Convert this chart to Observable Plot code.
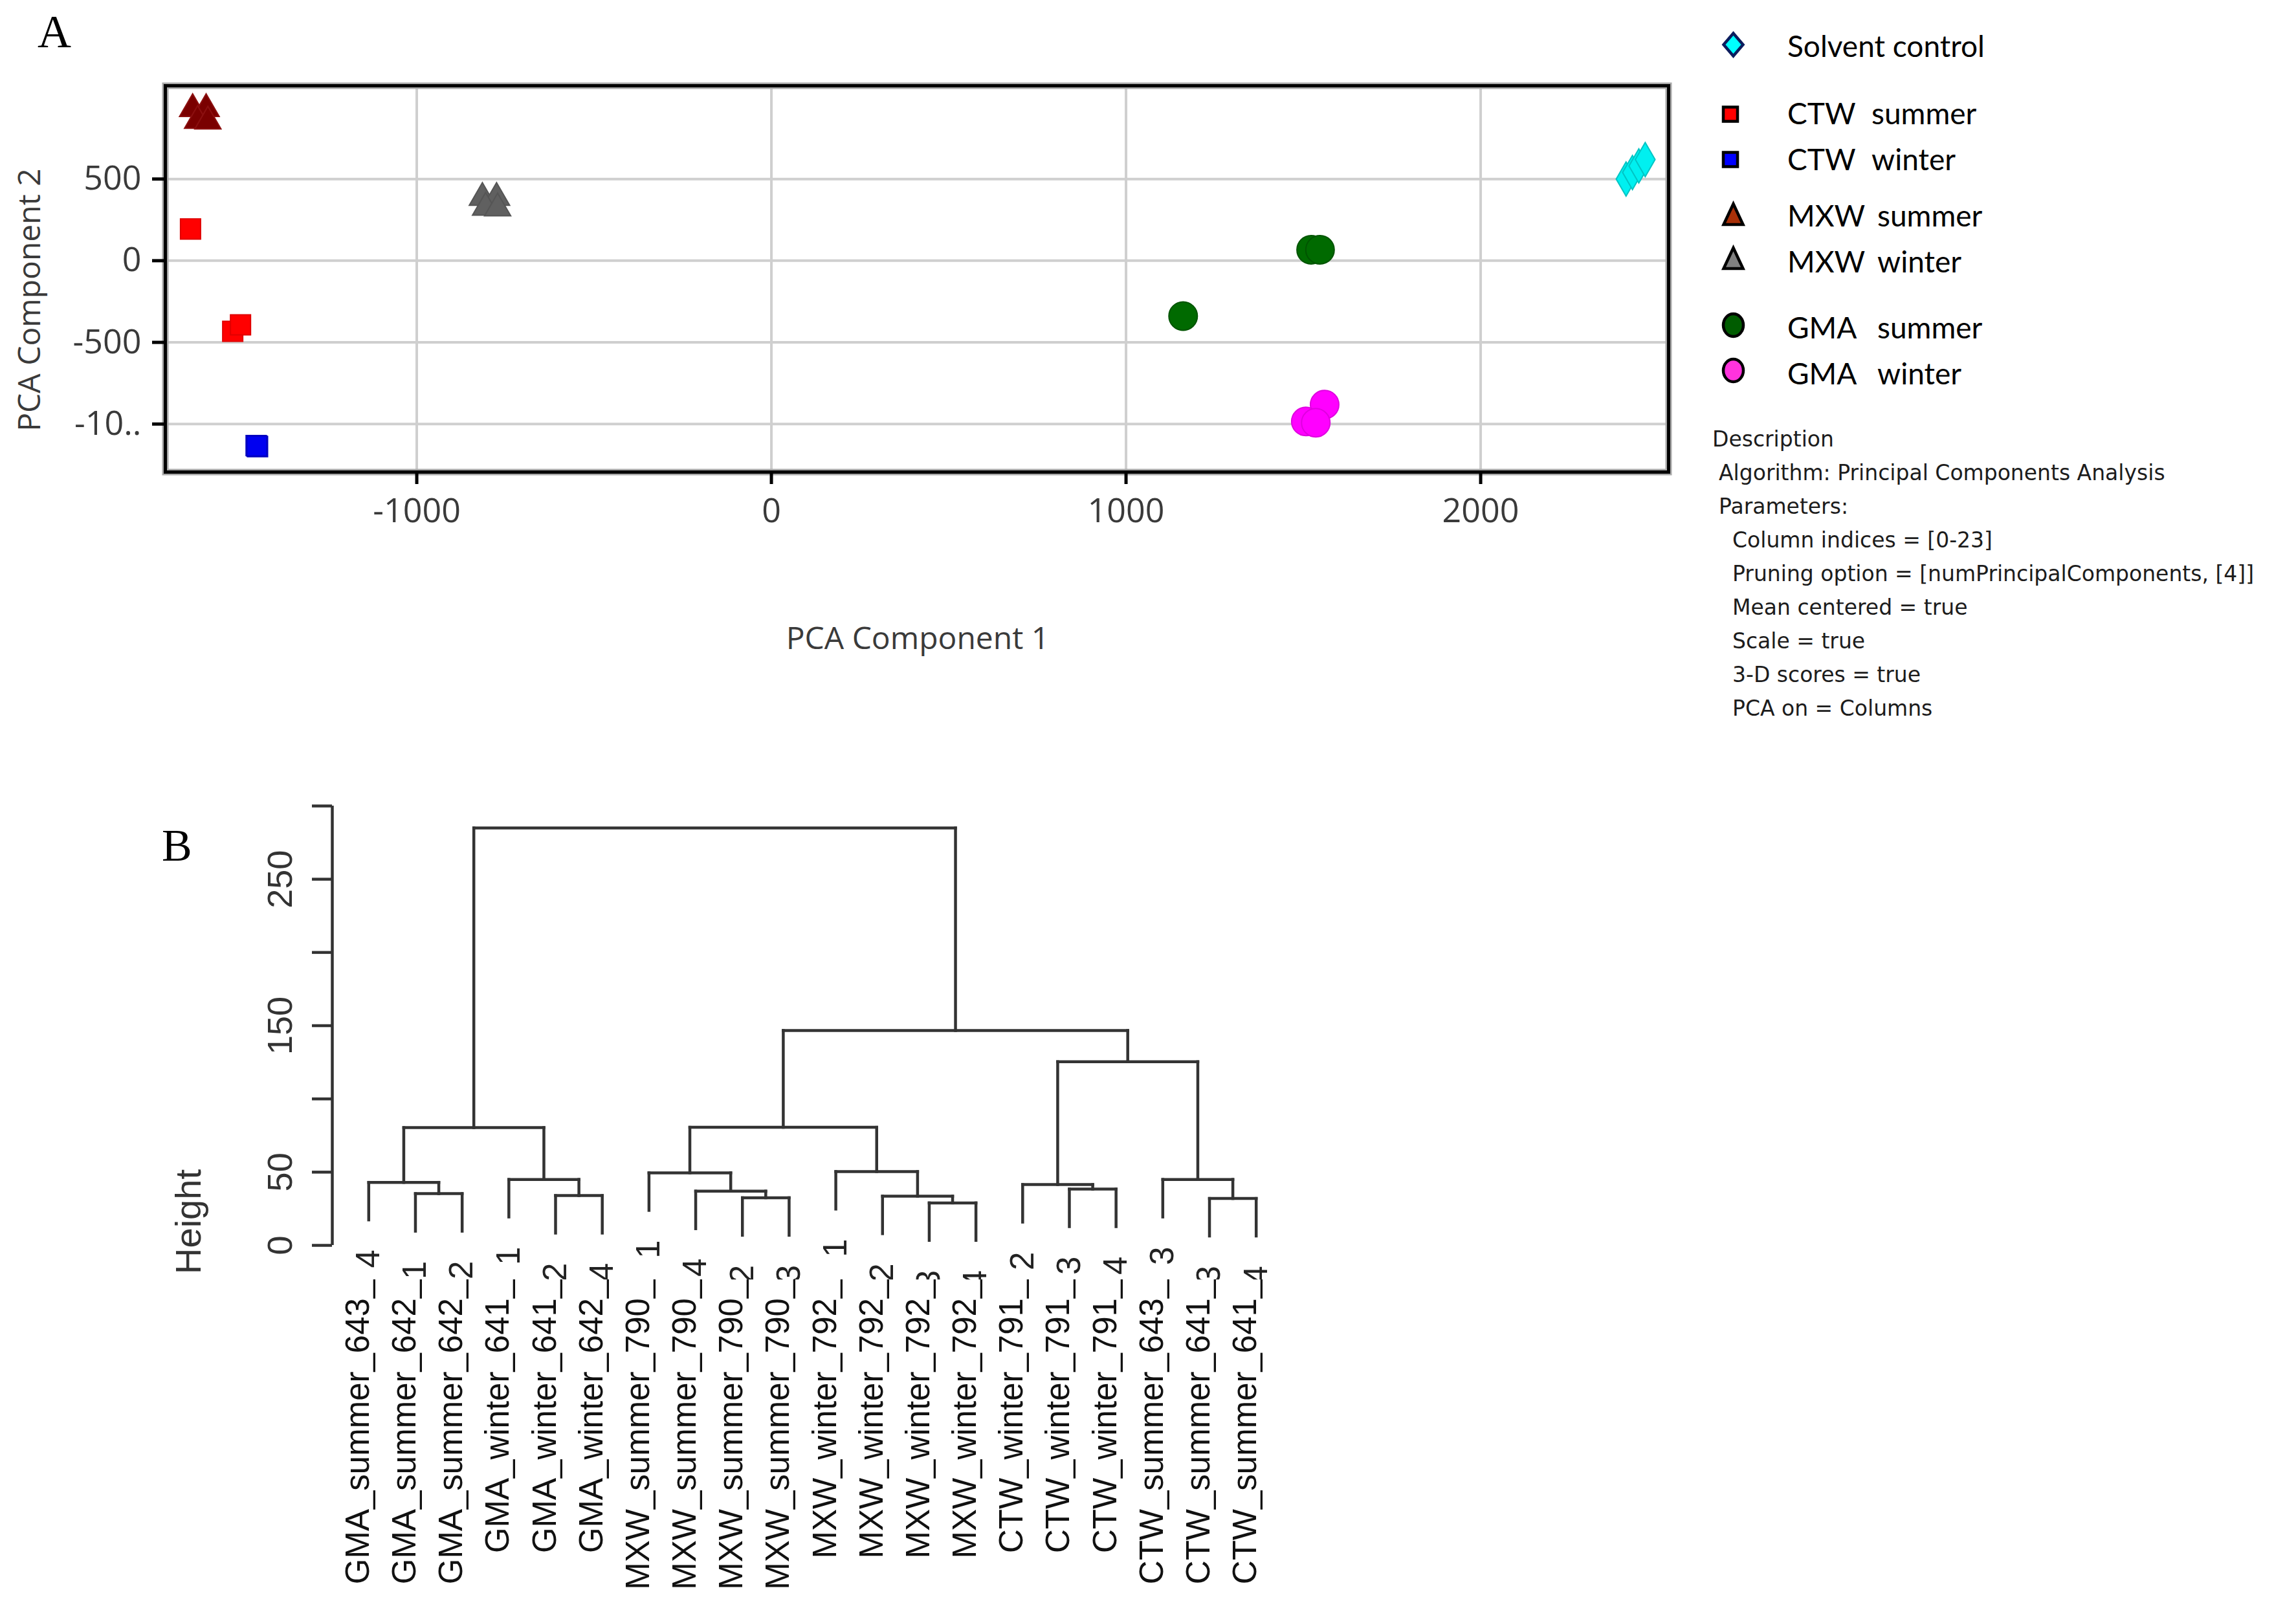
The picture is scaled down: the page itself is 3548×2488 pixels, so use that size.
<!DOCTYPE html>
<html>
<head>
<meta charset="utf-8">
<script src="https://cdn.jsdelivr.net/npm/d3@7"></script>
<script src="https://cdn.jsdelivr.net/npm/@observablehq/plot@0.6"></script>
<style>
html, body { margin: 0; padding: 0; background: #fff; }
#fig { position: relative; width: 3548px; height: 2488px; background: #fff; overflow: hidden; }
</style>
</head>
<body>
<div id="fig"></div>
<script>
// ================= DATA =================
// Panel A: PCA scores
const groupNames = ["Solvent control", "CTW summer", "CTW winter", "MXW summer", "MXW winter", "GMA summer", "GMA winter"];
const pointGroup = [
  "Solvent control", "Solvent control", "Solvent control", "Solvent control",
  "CTW summer", "CTW summer", "CTW summer",
  "CTW winter", "CTW winter", "CTW winter",
  "MXW summer", "MXW summer", "MXW summer", "MXW summer",
  "MXW winter", "MXW winter", "MXW winter", "MXW winter",
  "GMA summer", "GMA summer", "GMA summer",
  "GMA winter", "GMA winter", "GMA winter"
];
const pointPC1 = [
  2410, 2428, 2446, 2464,
  -1638, -1519, -1497,
  -1453, -1449, -1451,
  -1632, -1594, -1618, -1589,
  -815, -775, -806, -772,
  1522, 1547, 1161,
  1560, 1507, 1535
];
const pointPC2 = [
  500, 540, 580, 619,
  194, -432, -393,
  -1132, -1138, -1135,
  929, 929, 857, 853,
  385, 385, 325, 321,
  67, 67, -339,
  -881, -984, -992
];
const pcaXTicks = [-1000, 0, 1000, 2000];
const pcaYTicks = [-1000, -500, 0, 500];

// Panel B: hierarchical clustering (leaf order as drawn)
const leafSample = [
  "GMA_summer_643", "GMA_summer_642", "GMA_summer_642", "GMA_winter_641", "GMA_winter_641", "GMA_winter_642",
  "MXW_summer_790", "MXW_summer_790", "MXW_summer_790", "MXW_summer_790",
  "MXW_winter_792", "MXW_winter_792", "MXW_winter_792", "MXW_winter_792",
  "CTW_winter_791", "CTW_winter_791", "CTW_winter_791",
  "CTW_summer_643", "CTW_summer_641", "CTW_summer_641"
];
const leafReplicate = ["4", "1", "2", "1", "2", "4", "1", "4", "2", "3", "1", "2", "3", "4", "2", "3", "4", "3", "3", "4"];
// merges (hclust convention: negative = leaf position, positive = earlier merge)
const mergeLeft   = [-2, -1, -5, -4, 2, -9, -8, -7, -13, -12, -11, 8, -16, -15, -19, -18, 14, 12, 5];
const mergeRight  = [-3, 1, -6, 3, 4, -10, 6, 7, -14, 9, 10, 11, -17, 13, -20, 15, 16, 17, 18];
const mergeHeight = [35.3, 43.0, 34.0, 45.0, 80.4, 32.5, 37.0, 49.5, 29.0, 33.6, 50.4, 80.6, 38.4, 41.5, 32.0, 45.0, 125.4, 146.7, 285.0];
const heightTicks = [0, 50, 100, 150, 200, 250, 300];
const heightLabels = [0, 50, 150, 250];

// Legend / description text
const legendLabels = ["Solvent control", "CTW summer", "CTW winter", "MXW summer", "MXW winter", "GMA summer", "GMA winter"];
const descriptionLines = [
  "Description",
  "Algorithm: Principal Components Analysis",
  "Parameters:",
  "Column indices = [0-23]",
  "Pruning option = [numPrincipalComponents, [4]]",
  "Mean centered = true",
  "Scale = true",
  "3-D scores = true",
  "PCA on = Columns"
];

// ================= STYLES =================
const groupSymbol = ["diamond", "square", "square", "triangle", "triangle", "circle", "circle"];
const groupRadius = [16, 17.5, 17.5, 15, 15, 22, 22];
const groupFill   = ["#00f0f0", "#ff0000", "#0000f0", "#7a0000", "#606060", "#006a00", "#ff00ff"];
const groupStroke = ["#00c4c4", "#e00000", "#0000c0", "#8c1010", "#555555", "#005400", "#e000e0"];
const legendShape  = ["diamond", "square", "square", "triangle", "triangle", "ellipse", "ellipse"];
const legendFill   = ["#00ffff", "#ff0000", "#0000ff", "#a83008", "#808080", "#005c00", "#ff33dd"];
const legendStroke = ["#0b1d5e", "#000", "#000", "#000", "#000", "#000", "#000"];
const legendSymbolY = [69, 176.5, 246.5, 332, 400, 502.5, 572.5];
const legendBaseline = [88, 192, 263, 350, 421, 523, 594];
const legendSecondX = [null, 2892, 2892, 2901, 2901, 2901, 2901];
const descIndent = [0, 10, 10, 31, 31, 31, 31, 31, 31];

const fig = document.getElementById("fig");

// ================= PANEL A =================
const points = pointGroup.map((g, i) => ({group: g, pc1: pointPC1[i], pc2: pointPC2[i]}));
const plotA = Plot.plot({
  width: 2640, height: 1050,
  marginLeft: 255, marginRight: 62, marginTop: 132, marginBottom: 321,
  x: {domain: [-1709, 2530]},
  y: {domain: [-1294, 1071]},
  style: {fontFamily: "'Open Sans', sans-serif", fontSize: "52px", background: "transparent", color: "#3a3a3a"},
  marks: [
    Plot.gridX(pcaXTicks, {stroke: "#cfcfcf", strokeOpacity: 1, strokeWidth: 4}),
    Plot.gridY(pcaYTicks, {stroke: "#cfcfcf", strokeOpacity: 1, strokeWidth: 4}),
    ...groupNames.map((g, k) => Plot.dot(points.filter(d => d.group === g), {
      x: "pc1", y: "pc2", symbol: groupSymbol[k], r: groupRadius[k],
      fill: groupFill[k], stroke: groupStroke[k], strokeWidth: 2
    })),
    Plot.frame({stroke: "#a8a8a8", strokeWidth: 10}),
    Plot.frame({stroke: "#000", strokeWidth: 5}),
    Plot.axisX(pcaXTicks, {tickSize: 19, tickPadding: 22, stroke: "#000", strokeWidth: 5, fill: "#3a3a3a", fontSize: 52, tickFormat: d => String(d), label: null}),
    Plot.axisY(pcaYTicks, {tickSize: 20, tickPadding: 17, stroke: "#000", strokeWidth: 5, fill: "#3a3a3a", fontSize: 52, tickFormat: d => d === -1000 ? "-10.." : String(d), label: null})
  ]
});
plotA.style.position = "absolute";
plotA.style.left = "0px";
plotA.style.top = "0px";
fig.appendChild(plotA);

// ================= PANEL B (dendrogram) =================
const nLeaf = leafSample.length;
const hang = 0.1 * (d3.max(mergeHeight) - d3.min(mergeHeight));
const mergeX = [];
const leafEnd = new Array(nLeaf);
const segments = [];
const nodeX = c => c < 0 ? -c : mergeX[c - 1];
mergeLeft.forEach((a, k) => {
  const b = mergeRight[k], h = mergeHeight[k];
  const xa = nodeX(a), xb = nodeX(b);
  mergeX[k] = (xa + xb) / 2;
  for (const [c, xc] of [[a, xa], [b, xb]]) {
    let top;
    if (c < 0) { top = h - hang; leafEnd[-c - 1] = top; }
    else top = mergeHeight[c - 1];
    segments.push({x1: xc, y1: top, x2: xc, y2: h});
  }
  segments.push({x1: xa, y1: h, x2: xb, y2: h});
});
const leaves = leafSample.map((s, i) => ({pos: i + 1, sample: s, rep: leafReplicate[i], end: leafEnd[i]}));
const xDomB = [0.22, 20.6];
const yDomB = [-23.5, 305];
const pxPerUnitB = 743.5 / (yDomB[1] - yDomB[0]);
const repDrop = 46 / pxPerUnitB;

const plotB = Plot.plot({
  width: 2100, height: 1308,
  marginLeft: 513, marginRight: 116, marginTop: 53.7, marginBottom: 510.8,
  x: {domain: xDomB, axis: null},
  y: {domain: yDomB},
  style: {fontFamily: "'Liberation Sans', Arial, sans-serif", fontSize: "51px", background: "transparent", color: "#333"},
  marks: [
    Plot.link(segments, {x1: "x1", y1: "y1", x2: "x2", y2: "y2", stroke: "#333", strokeWidth: 4.5, strokeLinecap: "square"}),
    Plot.ruleX([xDomB[0]], {y1: heightTicks[0], y2: heightTicks[heightTicks.length - 1], stroke: "#333", strokeWidth: 4.5}),
    Plot.axisY(heightTicks, {tickSize: 31, tickRotate: -90, tickPadding: 32, stroke: "#333", strokeWidth: 4.5, fill: "#333", fontSize: 54,
      tickFormat: d => heightLabels.includes(d) ? String(d) : "", label: null}),
    Plot.text(leaves, {x: "pos", y: d => d.end - repDrop, text: "rep", rotate: -90, textAnchor: "end", fontSize: 51, fill: "#222", clip: true}),
    Plot.text(leaves, {x: "pos", frameAnchor: "bottom", text: d => d.sample + "_", rotate: -90, textAnchor: "end", fontSize: 51, fill: "#111"})
  ]
});
plotB.style.position = "absolute";
plotB.style.left = "0px";
plotB.style.top = "1180px";
fig.appendChild(plotB);

// ================= OVERLAY: panel letters, titles, legend, description =================
const ov = d3.select(fig).append("svg")
  .attr("width", 3548).attr("height", 2488)
  .style("position", "absolute").style("left", "0px").style("top", "0px")
  .style("pointer-events", "none");

ov.append("text").attr("x", 58).attr("y", 73)
  .attr("font-family", "'Liberation Serif', 'Times New Roman', serif").attr("font-size", 72).text("A");
ov.append("text").attr("x", 250).attr("y", 1330)
  .attr("font-family", "'Liberation Serif', 'Times New Roman', serif").attr("font-size", 70).text("B");

ov.append("text").attr("x", 1418).attr("y", 1003).attr("text-anchor", "middle")
  .attr("font-family", "'Open Sans', sans-serif").attr("font-size", 48).attr("fill", "#3a3a3a")
  .text("PCA Component 1");
ov.append("text").attr("transform", "translate(62,463.5) rotate(-90)").attr("text-anchor", "middle")
  .attr("font-family", "'Open Sans', sans-serif").attr("font-size", 48).attr("fill", "#3a3a3a")
  .text("PCA Component 2");
ov.append("text").attr("transform", "translate(310,1888) rotate(-90)").attr("text-anchor", "middle")
  .attr("font-family", "'Liberation Sans', Arial, sans-serif").attr("font-size", 56).attr("fill", "#333")
  .text("Height");

// legend
const lg = ov.append("g");
legendLabels.forEach((lab, i) => {
  const cy = legendSymbolY[i], cx = 2678.5;
  const shape = legendShape[i];
  const common = s => s.attr("fill", legendFill[i]).attr("stroke", legendStroke[i]).attr("stroke-width", 4.5).attr("stroke-linejoin", "miter");
  if (shape === "diamond") {
    lg.append("polygon").attr("points", `${cx},${cy - 17.5} ${cx + 15},${cy} ${cx},${cy + 17.5} ${cx - 15},${cy}`).call(common);
  } else if (shape === "square") {
    lg.append("rect").attr("x", 2663).attr("y", cy - 11).attr("width", 22).attr("height", 22).call(common);
  } else if (shape === "triangle") {
    lg.append("polygon").attr("points", `${cx},${cy - 17} ${cx + 15},${cy + 15} ${cx - 15},${cy + 15}`).call(common);
  } else {
    lg.append("ellipse").attr("cx", cx).attr("cy", cy).attr("rx", 15.5).attr("ry", 17.5).call(common);
  }
  const words = lab.split(" ");
  const t = lg.append("text").attr("y", legendBaseline[i])
    .attr("font-family", "Lato, 'Open Sans', sans-serif").attr("font-size", 46).attr("fill", "#000");
  if (legendSecondX[i] === null) {
    t.attr("x", 2762).text(lab);
  } else {
    t.append("tspan").attr("x", 2762).text(words[0]);
    t.append("tspan").attr("x", legendSecondX[i]).text(words.slice(1).join(" "));
  }
});

// description
const dg = ov.append("g").attr("font-family", "'DejaVu Sans', sans-serif").attr("font-size", 33).attr("fill", "#1c1c1c");
descriptionLines.forEach((line, i) => {
  dg.append("text").attr("x", 2646 + descIndent[i]).attr("y", 690 + 52 * i).text(line);
});
</script>
</body>
</html>
